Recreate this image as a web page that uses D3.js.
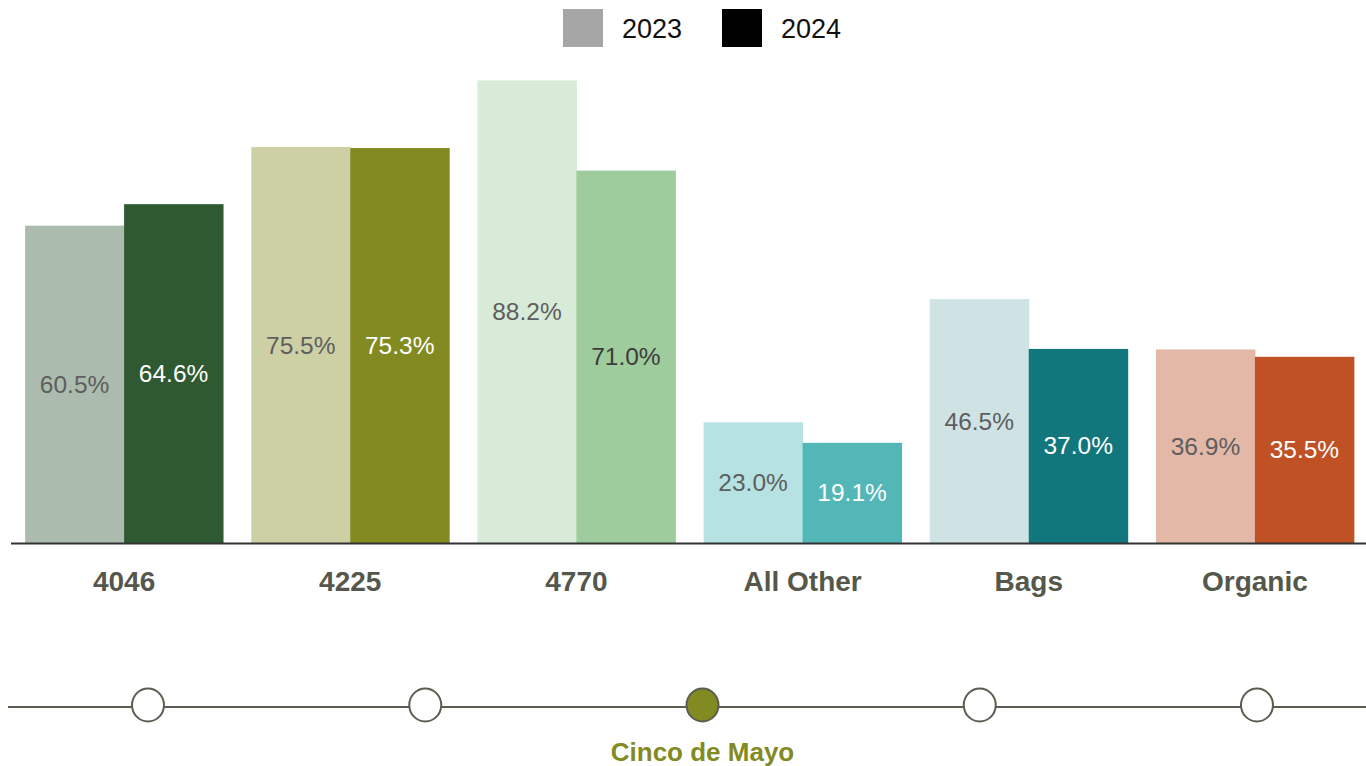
<!DOCTYPE html>
<html>
<head>
<meta charset="utf-8">
<script src="https://cdn.jsdelivr.net/npm/d3@7/dist/d3.min.js"></script>
<style>
  html, body { margin: 0; padding: 0; background: #fff; }
  svg { display: block; }
</style>
</head>
<body>
<svg id="chart" width="1366" height="766"></svg>
<script>
// Product categories and share values (%) for each year
const categories = ["4046", "4225", "4770", "All Other", "Bags", "Organic"];
const years = ["2023", "2024"];
const values2023 = [60.5, 75.5, 88.2, 23.0, 46.5, 36.9];
const values2024 = [64.6, 75.3, 71.0, 19.1, 37.0, 35.5];

// Paired colours per category: [2023 tint, 2024 shade]
const colors2023 = ["#abbcae", "#cdd0a5", "#d8ebd9", "#b6e2e2", "#cfe2e4", "#e3b8a7"];
const colors2024 = ["#2f5930", "#838a21", "#9ecc9d", "#53b7b7", "#12767d", "#bf5125"];
const legendColors = ["#a6a6a6", "#000000"];

// Timeline of selectable events; the active one is labelled
const events = ["e1", "e2", "Cinco de Mayo", "e4", "e5"];
const activeEvent = "Cinco de Mayo";

const svg = d3.select("#chart");
const font = "'Liberation Sans', Arial, sans-serif";
const baseY = 543;

const x = d3.scaleBand()
  .domain(categories)
  .range([11, 1368])
  .paddingInner(0.125)
  .paddingOuter(0.0625);

const xInner = d3.scaleBand()
  .domain(years)
  .range([0, x.bandwidth()]);

const y = d3.scaleLinear()
  .domain([0, 100])
  .range([baseY, baseY - 524.5]);

const rows = categories.map((c, i) => ({
  cat: c,
  bars: [
    { year: "2023", value: values2023[i], color: colors2023[i] },
    { year: "2024", value: values2024[i], color: colors2024[i] }
  ]
}));

// Bars
const groups = svg.append("g").selectAll("g")
  .data(rows)
  .join("g")
  .attr("transform", d => `translate(${x(d.cat)},0)`);

groups.selectAll("rect")
  .data(d => d.bars)
  .join("rect")
  .attr("x", d => xInner(d.year))
  .attr("y", d => y(d.value))
  .attr("width", xInner.bandwidth() + 0.5)
  .attr("height", d => baseY - y(d.value))
  .attr("fill", d => d.color);

// Value labels, centred vertically in each bar
groups.selectAll("text")
  .data(d => d.bars)
  .join("text")
  .attr("x", d => xInner(d.year) + xInner.bandwidth() / 2)
  .attr("y", d => (y(d.value) + baseY) / 2)
  .attr("text-anchor", "middle")
  .attr("dominant-baseline", "central")
  .attr("font-family", font)
  .attr("font-size", 24.5)
  .attr("fill", d => d3.hsl(d.color).l > 0.6
    ? (d.year === "2023" ? "#5e5e5e" : "#3c3c3c")
    : "#ffffff")
  .text(d => d.value.toFixed(1) + "%");

// Baseline axis
const xAxis = d3.axisBottom(x).tickSize(0).tickPadding(28);
const axisG = svg.append("g")
  .attr("transform", `translate(0,${baseY})`)
  .call(xAxis);
axisG.select(".domain")
  .attr("d", `M11,0.5H1366`)
  .attr("stroke", "#333333")
  .attr("stroke-width", 2);
axisG.selectAll("text")
  .attr("font-family", font)
  .attr("font-weight", "bold")
  .attr("font-size", 28)
  .attr("fill", "#56574b");

// Legend
const legendX = d3.scalePoint().domain(years).range([563, 722]);
const legend = svg.append("g").selectAll("g")
  .data(years)
  .join("g")
  .attr("transform", d => `translate(${legendX(d)},9)`);
legend.append("rect")
  .attr("width", 40)
  .attr("height", 38)
  .attr("fill", (d, i) => legendColors[i]);
legend.append("text")
  .attr("x", 59)
  .attr("y", 20)
  .attr("dominant-baseline", "central")
  .attr("font-family", font)
  .attr("font-size", 27)
  .attr("fill", "#111111")
  .text(d => d);

// Event timeline
const tlY = 707;
const tx = d3.scalePoint().domain(events).range([148, 1257]);
const timeline = svg.append("g");
timeline.append("line")
  .attr("x1", 8).attr("x2", 1366)
  .attr("y1", tlY).attr("y2", tlY)
  .attr("stroke", "#5c5c50")
  .attr("stroke-width", 2);
timeline.selectAll("ellipse")
  .data(events)
  .join("ellipse")
  .attr("cx", d => tx(d))
  .attr("cy", tlY - 2)
  .attr("rx", 16)
  .attr("ry", 16.5)
  .attr("fill", d => d === activeEvent ? "#828a22" : "#ffffff")
  .attr("stroke", "#5c5c50")
  .attr("stroke-width", 2);
timeline.append("text")
  .attr("x", tx(activeEvent))
  .attr("y", 752)
  .attr("text-anchor", "middle")
  .attr("dominant-baseline", "central")
  .attr("font-family", font)
  .attr("font-weight", "bold")
  .attr("font-size", 26)
  .attr("fill", "#828a22")
  .text(activeEvent);
</script>
</body>
</html>
